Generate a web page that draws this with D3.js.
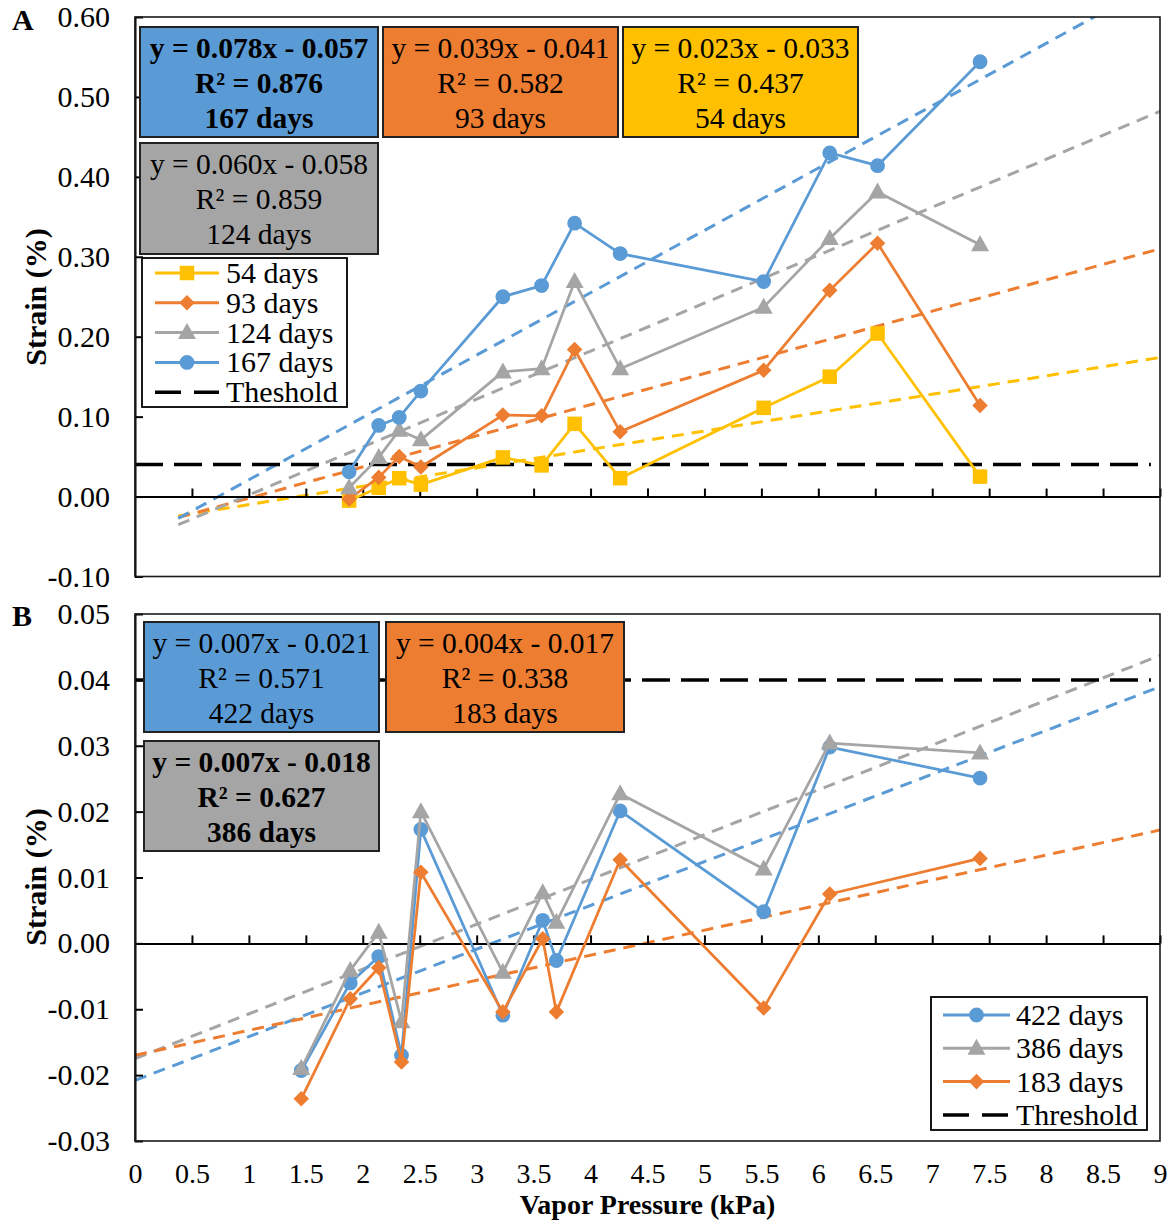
<!DOCTYPE html>
<html><head><meta charset="utf-8">
<script src="https://cdn.jsdelivr.net/npm/d3@7"></script>
<style>
body{margin:0;background:#fff}
svg{display:block}
text{font-family:"Liberation Serif","Times New Roman",serif;fill:#000}
</style>
</head><body>
<svg id="chart" width="1172" height="1221"></svg>
<script>
// ---------------- DATA ----------------
const xTicks = [0,0.5,1,1.5,2,2.5,3,3.5,4,4.5,5,5.5,6,6.5,7,7.5,8,8.5,9];
const yTicksA = [-0.1,0,0.1,0.2,0.3,0.4,0.5,0.6];
const yTicksB = [-0.03,-0.02,-0.01,0,0.01,0.02,0.03,0.04,0.05];

// Panel A
const vaporA   = [1.88, 2.14, 2.32, 2.51, 3.23, 3.57, 3.86, 4.26, 5.52, 6.10, 6.52, 7.42];
const strain54  = [-0.005, 0.011, 0.023, 0.015, 0.049, 0.039, 0.091, 0.023, 0.111, 0.150, 0.204, 0.025];
const strain93  = [-0.003, 0.024, 0.050, 0.037, 0.102, 0.101, 0.184, 0.081, 0.158, 0.258, 0.317, 0.114];
const strain124 = [0.011, 0.049, 0.083, 0.071, 0.156, 0.160, 0.269, 0.160, 0.237, 0.323, 0.381, 0.315];
const strain167 = [0.031, 0.089, 0.099, 0.132, 0.250, 0.264, 0.342, 0.304, 0.269, 0.430, 0.414, 0.544];
const namesA = ["54 days","93 days","124 days","167 days"];
const trendSlopeA = [0.023, 0.039, 0.060, 0.078];
const trendInterceptA = [-0.033, -0.041, -0.058, -0.057];
const trendRangeA = [0.38, 9];

// Panel B
const vaporB   = [1.46, 1.89, 2.14, 2.34, 2.51, 3.23, 3.58, 3.70, 4.26, 5.52, 6.10, 7.42];
const strain422 = [-0.0193, -0.0060, -0.0020, -0.0170, 0.0173, -0.0109, 0.0035, -0.0026, 0.0201, 0.0048, 0.0298, 0.0251];
const strain386 = [-0.0190, -0.0041, 0.0017, -0.0119, 0.0200, -0.0044, 0.0077, 0.0032, 0.0227, 0.0113, 0.0304, 0.0289];
const strain183 = [-0.0236, -0.0084, -0.0037, -0.0180, 0.0108, -0.0104, 0.0007, -0.0104, 0.0127, -0.0098, 0.0075, 0.0129];
const namesB = ["422 days","386 days","183 days"];
const trendSlopeB = [0.00664, 0.0068, 0.0038];
const trendInterceptB = [-0.0208, -0.0175, -0.0170];
const trendRangeB = [0, 9];

const thresholdValue = 0.04;
const thresholdLabelA = "Theshold";
const thresholdLabelB = "Threshold";

const eqTextA = [
  ["y = 0.078x - 0.057","R² = 0.876","167 days"],
  ["y = 0.039x - 0.041","R² = 0.582","93 days"],
  ["y = 0.023x - 0.033","R² = 0.437","54 days"],
  ["y = 0.060x - 0.058","R² = 0.859","124 days"]
];
const eqTextB = [
  ["y = 0.007x - 0.021","R² = 0.571","422 days"],
  ["y = 0.004x - 0.017","R² = 0.338","183 days"],
  ["y = 0.007x - 0.018","R² = 0.627","386 days"]
];

// ---------------- STYLE / LAYOUT ----------------
const C = {blue:"#5B9BD5", orange:"#ED7D31", gray:"#A5A5A5", yellow:"#FFC000"};
const FS = 30, FSBOX = 29.5, FSX = 28;
const svg = d3.select("#chart");
svg.append("rect").attr("width",1172).attr("height",1221).attr("fill","#fff");

const x = d3.scaleLinear().domain([0,9]).range([135,1160]);
const yA = d3.scaleLinear().domain([-0.1,0.6]).range([576.5,17]);
const yB = d3.scaleLinear().domain([-0.03,0.05]).range([1141,614]);

function markerPath(type){
  if(type==="circle") return d3.symbol(d3.symbolCircle, Math.PI*7.4*7.4)();
  if(type==="square") return d3.symbol(d3.symbolSquare, 14.5*14.5)();
  if(type==="diamond") return d3.symbol(d3.symbolSquare, 11*11)();
  if(type==="triangle") return "M0,-9.5L9,6.5L-9,6.5Z";
}
function drawMarker(g, type, color, px, py){
  g.append("path").attr("d", markerPath(type))
    .attr("transform", `translate(${px},${py})` + (type==="diamond"?" rotate(45)":""))
    .attr("fill", color);
}

function panel(opts){
  const {y, yTicks, clipId} = opts;
  const g = svg.append("g");
  const [x0,x1] = x.range();
  const [yb,yt] = y.range();
  g.append("clipPath").attr("id",clipId).append("rect")
    .attr("x",x0).attr("y",yt).attr("width",x1-x0).attr("height",yb-yt);

  const line = d3.line().x(d=>x(d[0])).y(d=>y(d[1]));
  opts.trends.forEach(t=>{
    const pts = opts.trendRange.map(v=>[v, t.m*v + t.b]);
    g.append("path").attr("d", line(pts)).attr("clip-path",`url(#${clipId})`)
      .attr("fill","none").attr("stroke",t.color).attr("stroke-width",3)
      .attr("stroke-dasharray","12,8");
  });
  g.append("path").attr("d", line([[0,thresholdValue],[8.92,thresholdValue]]))
    .attr("fill","none").attr("stroke","#000").attr("stroke-width",3.5)
    .attr("stroke-dasharray","28,11");

  const ya = g.append("g").attr("transform",`translate(${x0},0)`)
    .call(d3.axisLeft(y).tickValues(yTicks).tickSize(-8).tickSizeOuter(0).tickPadding(25)
      .tickFormat(d=>d.toFixed(2)));
  ya.attr("font-size",FS).attr("font-family",null);
  ya.selectAll("path,line").attr("stroke","#000").attr("stroke-width",2);
  const za = g.append("g").attr("transform",`translate(0,${y(0)})`)
    .call(d3.axisTop(x).tickValues(xTicks.filter(v=>v>0)).tickSize(8).tickSizeOuter(0).tickFormat(""));
  za.selectAll("path,line").attr("stroke","#000").attr("stroke-width",2);
  g.append("rect").attr("x",x0).attr("y",yt).attr("width",x1-x0).attr("height",yb-yt)
    .attr("fill","none").attr("stroke","#1a1a1a").attr("stroke-width",1.6);

  opts.series.forEach(s=>{
    const pts = opts.xs.map((v,i)=>[v, s.values[i]]);
    g.append("path").attr("d", line(pts)).attr("fill","none")
      .attr("stroke",s.color).attr("stroke-width",2.75).attr("stroke-linejoin","round");
    pts.forEach(p=>drawMarker(g, s.marker, s.color, x(p[0]), y(p[1])));
  });

  opts.boxes.forEach(b=>{
    const lines = opts.eqText[b.k];
    g.append("rect").attr("x",b.x).attr("y",b.y).attr("width",b.w).attr("height",b.h)
      .attr("fill",b.fill).attr("stroke","#222").attr("stroke-width",2);
    lines.forEach((t,j)=>{
      g.append("text").attr("x",b.x+b.w/2).attr("y",b.y+31+j*35)
        .attr("text-anchor","middle").attr("font-size",FSBOX)
        .attr("font-weight",b.bold?"bold":"normal").text(t);
    });
  });

  const L = opts.legend;
  g.append("rect").attr("x",L.x).attr("y",L.y).attr("width",L.w).attr("height",L.h)
    .attr("fill","#fff").attr("stroke","#000").attr("stroke-width",1.8);
  L.items.forEach((it,i)=>{
    const cy = L.row0 + i*L.dy;
    if(it.threshold){
      g.append("line").attr("x1",L.lx0).attr("x2",L.lx1).attr("y1",cy).attr("y2",cy)
        .attr("stroke","#000").attr("stroke-width",3.5).attr("stroke-dasharray","26,13");
    } else {
      g.append("line").attr("x1",L.lx0).attr("x2",L.lx1).attr("y1",cy).attr("y2",cy)
        .attr("stroke",it.color).attr("stroke-width",3);
      drawMarker(g, it.marker, it.color, (L.lx0+L.lx1)/2, cy);
    }
    g.append("text").attr("x",L.tx).attr("y",cy+10).attr("font-size",FS).text(it.label);
  });
  return g;
}

panel({
  y: yA, yTicks: yTicksA, clipId: "clipA", xs: vaporA, trendRange: trendRangeA,
  trends: [
    {m:trendSlopeA[0], b:trendInterceptA[0], color:C.yellow},
    {m:trendSlopeA[1], b:trendInterceptA[1], color:C.orange},
    {m:trendSlopeA[2], b:trendInterceptA[2], color:C.gray},
    {m:trendSlopeA[3], b:trendInterceptA[3], color:C.blue}
  ],
  series: [
    {values:strain54, color:C.yellow, marker:"square"},
    {values:strain93, color:C.orange, marker:"diamond"},
    {values:strain124, color:C.gray, marker:"triangle"},
    {values:strain167, color:C.blue, marker:"circle"}
  ],
  eqText: eqTextA,
  boxes: [
    {k:0, x:140, y:27, w:238, h:110, fill:C.blue, bold:true},
    {k:1, x:383, y:27, w:235, h:110, fill:C.orange, bold:false},
    {k:2, x:623, y:27, w:235, h:110, fill:C.yellow, bold:false},
    {k:3, x:140, y:143, w:238, h:111, fill:C.gray, bold:false}
  ],
  legend: {x:142, y:258, w:205, h:149, row0:273, dy:29.8, lx0:155, lx1:219, tx:226,
    items:[
      {label:namesA[0], color:C.yellow, marker:"square"},
      {label:namesA[1], color:C.orange, marker:"diamond"},
      {label:namesA[2], color:C.gray, marker:"triangle"},
      {label:namesA[3], color:C.blue, marker:"circle"},
      {label:thresholdLabelA, threshold:true}
    ]}
});

panel({
  y: yB, yTicks: yTicksB, clipId: "clipB", xs: vaporB, trendRange: trendRangeB,
  trends: [
    {m:trendSlopeB[0], b:trendInterceptB[0], color:C.blue},
    {m:trendSlopeB[1], b:trendInterceptB[1], color:C.gray},
    {m:trendSlopeB[2], b:trendInterceptB[2], color:C.orange}
  ],
  series: [
    {values:strain422, color:C.blue, marker:"circle"},
    {values:strain386, color:C.gray, marker:"triangle"},
    {values:strain183, color:C.orange, marker:"diamond"}
  ],
  eqText: eqTextB,
  boxes: [
    {k:0, x:144, y:622, w:235, h:110, fill:C.blue, bold:false},
    {k:1, x:386, y:622, w:238, h:110, fill:C.orange, bold:false},
    {k:2, x:144, y:741, w:235, h:110, fill:C.gray, bold:true}
  ],
  legend: {x:931, y:997, w:216, h:133, row0:1015, dy:33.3, lx0:943, lx1:1010, tx:1016,
    items:[
      {label:namesB[0], color:C.blue, marker:"circle"},
      {label:namesB[1], color:C.gray, marker:"triangle"},
      {label:namesB[2], color:C.orange, marker:"diamond"},
      {label:thresholdLabelB, threshold:true}
    ]}
});

// X axis labels (bottom of panel B)
const xa = svg.append("g").attr("transform",`translate(0,${yB.range()[0]})`)
  .call(d3.axisBottom(x).tickValues(xTicks).tickSize(0).tickPadding(22).tickFormat(d=>String(d)));
xa.attr("font-size",FSX).attr("font-family",null);
xa.select(".domain").remove();

svg.append("text").attr("x",(x.range()[0]+x.range()[1])/2).attr("y",1214)
  .attr("text-anchor","middle").attr("font-size",FSX).attr("font-weight","bold")
  .text("Vapor Pressure (kPa)");

[297, 877].forEach(cy=>{
  svg.append("text").attr("transform",`translate(46,${cy}) rotate(-90)`)
    .attr("text-anchor","middle").attr("font-size",FS).attr("font-weight","bold")
    .text("Strain (%)");
});
svg.append("text").attr("x",12).attr("y",30).attr("font-size",FS).attr("font-weight","bold").text("A");
svg.append("text").attr("x",12).attr("y",626).attr("font-size",FS).attr("font-weight","bold").text("B");
</script>
</body></html>
